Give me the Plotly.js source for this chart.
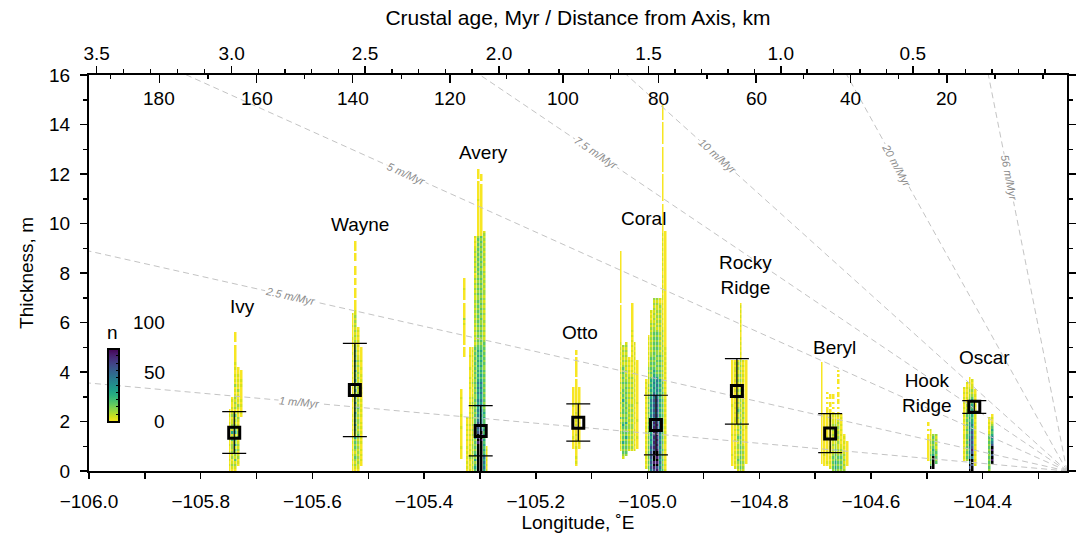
<!DOCTYPE html>
<html><head><meta charset="utf-8">
<script src="https://cdn.plot.ly/plotly-3.0.1.min.js"></script>
<style>html,body{margin:0;padding:0;background:#fff}</style>
</head><body><div id="chart" style="width:1077px;height:542px"></div>
<script>
// ================= DATA =================
const lonRange = [-106.0, -104.249];
const thkRange = [0, 16];

const siteNames    = ['Ivy', 'Wayne', 'Avery', 'Otto', 'Coral', 'Rocky<br>Ridge', 'Beryl', 'Hook<br>Ridge', 'Oscar'];
const siteLabelLon = [-105.726, -105.515, -105.2945, -105.121, -105.008, -104.825, -104.666, -104.500, -104.396];
const siteLabelThk = [6.63, 9.94, 12.85, 5.58, 10.22, 7.92, 5.01, 3.15, 4.57];

// medians and whiskers
const medianLon = [-105.740, -105.524, -105.2987, -105.124, -104.985, -104.840, -104.673, -104.415];
const medianThk = [1.55, 3.27, 1.62, 1.95, 1.86, 3.23, 1.52, 2.60];
const upperThk  = [2.40, 5.16, 2.64, 2.71, 3.06, 4.54, 2.32, 2.84];
const lowerThk  = [0.71, 1.39, 0.61, 1.21, 0.65, 1.89, 0.74, 2.33];

// accumulation-rate reference lines
const rates        = [1, 2.5, 5, 7.5, 10, 20, 56];            // m/Myr
const rateLabels   = ['1 m/Myr', '2.5 m/Myr', '5 m/Myr', '7.5 m/Myr', '10 m/Myr', '20 m/Myr', '56 m/Myr'];
const rateLabelLon = [-105.624, -105.640, -105.432, -105.092, -104.875, -104.553, -104.353];
const axisLon  = -104.249;   // ridge axis (age 0)
const ageScale = 2.03;       // Myr per degree of longitude

// top axes
const ageTickText = ['3.5', '3.0', '2.5', '2.0', '1.5', '1.0', '0.5'];
const ageTickLon  = [-105.9862, -105.7445, -105.5058, -105.2659, -104.9982, -104.7615, -104.5251];
const kmTickText  = ['180', '160', '140', '120', '100', '80', '60', '40', '20'];
const kmTickLon   = [-105.8741, -105.6997, -105.5278, -105.3536, -105.1518, -104.9807, -104.8057, -104.6362, -104.4643];

// colour bar
const cbTickVals = [0, 50, 100];

// density of thickness picks: per site, the longitude of the first column and
// one string per column, one character per 0.1 m bin from the sea floor up.
// '.' empty, 1..8 count level, x = over 100
const levelCount = [null, 1, 6, 15, 26, 40, 58, 75, 92];
const binLon = 0.005, binThk = 0.1;

const ivyLon0 = -105.7484;
const ivyCols = [
  '1121211211212112121211211',
  '123213232332432524322132121121',
  '12324233425343254232324213232321213121211212111111' + '1.1111',
  '..12132132321423212123121231212131212121' + '11',
  '......................1211212111112121111'
];
const wayneLon0 = -105.5282;
const wayneCols = [
  '1121212121121211212121211211' + '211212121212112121121121121111211112',
  '1232343234343523435343453435344353435343534353434332323232' + '3232322' + '1111.1111.111.1111..111.1111',
  '1223232323232343232332323432322323232323223232212121212121',
  '..112121211212121212112121212112121121211211211111'
];
const averyLon0 = -105.3303;
const averyCols = [
  '.....1111211111112111121111112111',
  '..............................................1111.11111111213111111.111121111',
  '1212121212112121212112',
  '21212321212121212121121212121211121212111211112111',
  '23232323233232323232232323232321212321212121212121',
  '45435354343435343434434343434334343434343434343434' + '323232323232323232322323232321323232323221212',
  'xxxxxxxxxxx8x8x76767' + '656565656556565654545454545454' + '434343434343434343433434343434343434343434343' + '1111111111111121111111.1111',
  'xxxxxxxxxxxx8x8x7676' + '656565656556565654545454545454' + '434343434334343434343434343434434343434343434' + '111111111111111111111.111',
  '5656565454545454545445454343434343434343433434343434' + '3232323232232323232332323232322323232323' + '23232',
  '2121212121'
];
const ottoLon0 = -105.1316;
const ottoCols = [
  '.........1111211111112111121111111',
  '..12121112112121112121121112111111111.11111111.11',
  '.........1121111111211111112111111'
];
const coralWestLon0 = -105.0480;
const coralWestCols = [
  '........' + '121312131213141312131213121312131212121212121' + '1111111111' + '1111.11111' + '1111111111' + '111111',
  '.....2343435343434543434434353434334343434323232323',
  '......3434343534343534343434343434343232323232323232',
  '........23232323233232323232232323232321212121',
  '........232323232332323232322323232323212121212121212121211111111111',
  '........21212121211212121212212121212112121212121212',
  '.........111121111112111111211111111111111111'
];
const coralEastLon0 = -105.0011;
const coralEastCols = [
  '.212121212121212121212121212121212121',
  '3434343434343434343434343434343232322323232212121212121',
  '6767676767656565656565656565655454545' + '4343434343323232323232321212',
  '78x8xx8x787878787878767676767676565656' + '54543434343434343433232323232323',
  '87x8x8xx878787878787767676767665656565' + '43434343433434343432323232322323',
  '5656565656565656565654545454545454545' + '343434343432323232322323232323212',
  '4343434343343434343443434343433434343' + '232323232323232323232121212121212' + '212121212112121212121212121' + '11111111111.11111111111.1111111111.111111111.111111',
  '2121212121121212121221212121211212121212121212121211111111111111111111111111111111111111111111111'
];
const rockyLon0 = -104.8496;
const rockyCols = [
  '..1111211111112111121111112111111121111111111',
  '.21212121211212121212212121212112121212122121',
  '232343232332343232322323432323323232323223232',
  '343434343434343434343232323232323232323232323' + '21212121211212121212121',
  '232323232321212121212323232321212121212121212',
  '...111111111111112111111111111111111111111111'
];
const berylLon0 = -104.6888;
const berylCols = [
  '...11111111111111111111111111111111111111111',
  '..111121111111211111111',
  '..12111211111211121111111' + '1.1.1.1',
  '.21212121211212121212121' + '1.11.11',
  '343434323232323232322121' + '.1.1.11',
  '45454343433232323232212',
  '34343432322323232323212' + '1.1.11.11.1.11.1.1',
  '34343432322121212121121',
  '323232321212121',
  '..1111111111'
];
const hookLon0 = -104.4960;
const hookCols = [
  '....11111111111.1.11',
  '.x434343232321212',
  '.xxxxx545434343',
  '...434343232323'
];
const oscarLon0 = -104.4304;
const oscarCols = [
  '....121212121221212121211212121212',
  '....343434343443434343433232121212' + '12',
  'x7x6x656567676565656454545434332321211',
  'xx7xx6x787676767656554545454543232212',
  '..2121212121121212121221212121211'
];
const oscarEastLon0 = -104.3882;
const oscarEastCols = [
  '3434343434343432121212',
  '...x8x7x8x7656545432121'
];

const siteColumns = [
  [ivyLon0, ivyCols], [wayneLon0, wayneCols], [averyLon0, averyCols], [ottoLon0, ottoCols],
  [coralWestLon0, coralWestCols], [coralEastLon0, coralEastCols], [rockyLon0, rockyCols],
  [berylLon0, berylCols], [hookLon0, hookCols], [oscarLon0, oscarCols], [oscarEastLon0, oscarEastCols]
];

// ================= BUILD =================
const FONT = 'Liberation Sans, Arial, Helvetica, sans-serif';
const nx = Math.round((lonRange[1] - lonRange[0]) / binLon) + 1;
const ny = Math.round((thkRange[1] - thkRange[0]) / binThk);
const xc = [], yc = [];
for (let i = 0; i < nx; i++) xc.push(lonRange[0] + (i + 0.5) * binLon);
for (let j = 0; j < ny; j++) yc.push(thkRange[0] + (j + 0.5) * binThk);
const zMain = [], zOver = [];
for (let j = 0; j < ny; j++) { zMain.push(new Array(nx).fill(null)); zOver.push(new Array(nx).fill(null)); }
siteColumns.forEach(([lon0, cols]) => {
  const i0 = Math.round((lon0 - lonRange[0]) / binLon - 0.5);
  cols.forEach((s, k) => {
    const i = i0 + k;
    for (let j = 0; j < s.length && j < ny; j++) {
      const c = s[j];
      if (c === 'x') zOver[j][i] = 1;
      else if (c >= '1' && c <= '8') zMain[j][i] = levelCount[+c];
    }
  });
});

const traces = [];
// reference lines
const lonSpan = axisLon - lonRange[0];
rates.forEach(r => {
  traces.push({
    type: 'scatter', mode: 'lines', x: [axisLon, lonRange[0]], y: [0, r * ageScale * lonSpan],
    line: {color: '#c4c4c4', width: 1, dash: '6px,4px'}, hoverinfo: 'skip', showlegend: false
  });
});
traces.push({
  type: 'heatmap', x: xc, y: yc, z: zMain, zmin: 0, zmax: 100, zsmooth: false, xgap: 0.5,
  colorscale: 'Viridis', reversescale: true, hoverinfo: 'skip',
  colorbar: {
    x: (108 - 89) / 978, xanchor: 'left', y: 0.125, yanchor: 'bottom', len: 0.25, lenmode: 'fraction',
    thickness: 11, thicknessmode: 'pixels', outlinewidth: 2, outlinecolor: '#000',
    ticks: 'inside', ticklen: 4, tickcolor: '#000', tickmode: 'linear', tick0: 0, dtick: 10,
    showticklabels: false, xpad: 0, ypad: 0,
    title: {text: 'n', side: 'top', font: {family: FONT, size: 19, color: '#000'}}
  }
});
traces.push({
  type: 'heatmap', x: xc, y: yc, z: zOver, zmin: 0, zmax: 1, zsmooth: false, xgap: 0.5,
  colorscale: [[0, '#000'], [1, '#000']], showscale: false, hoverinfo: 'skip'
});
traces.push({
  type: 'scatter', mode: 'markers', x: medianLon, y: medianThk,
  marker: {symbol: 'square-open', size: 11, color: '#000', line: {width: 3, color: '#000'}},
  error_y: {type: 'data', symmetric: false,
    array: upperThk.map((u, i) => u - medianThk[i]),
    arrayminus: lowerThk.map((l, i) => medianThk[i] - l),
    width: 12, thickness: 1.2, color: '#000'},
  hoverinfo: 'skip', showlegend: false
});
// invisible anchors so the two top axes are drawn
['x2', 'x3'].forEach(ax => traces.push({
  type: 'scatter', mode: 'markers', x: [lonRange[0]], y: [-5], xaxis: ax, yaxis: 'y',
  marker: {opacity: 0}, hoverinfo: 'skip', showlegend: false
}));

function interpMinor(lons, sub) {
  const out = [];
  for (let k = 0; k < lons.length - 1; k++) {
    for (let m = 1; m < sub; m++) out.push(lons[k] + (lons[k + 1] - lons[k]) * m / sub);
  }
  const dl = (lons[1] - lons[0]) / sub, dr = (lons[lons.length - 1] - lons[lons.length - 2]) / sub;
  for (let v = lons[0] - dl; v > lonRange[0]; v -= dl) out.push(v);
  for (let v = lons[lons.length - 1] + dr; v < lonRange[1]; v += dr) out.push(v);
  return out;
}

const pxW = 978, pxH = 396;
const pxPerDeg = pxW / (lonRange[1] - lonRange[0]);
const pxPerM = pxH / (thkRange[1] - thkRange[0]);

const annotations = [];
siteNames.forEach((n, i) => annotations.push({
  x: siteLabelLon[i], y: siteLabelThk[i], xref: 'x', yref: 'y', text: n, showarrow: false,
  font: {family: FONT, size: 19, color: '#000'}, align: 'center'
}));
rates.forEach((r, i) => {
  const lon = rateLabelLon[i];
  const thk = r * ageScale * (axisLon - lon);
  const ang = Math.atan(r * ageScale * pxPerM / pxPerDeg) * 180 / Math.PI;
  annotations.push({
    x: lon, y: thk, xref: 'x', yref: 'y', text: '<i>' + rateLabels[i] + '</i>', showarrow: false,
    textangle: ang, bgcolor: '#fff', borderpad: 0,
    font: {family: FONT, size: 11, color: '#8c8c8c'}
  });
});
cbTickVals.forEach(v => annotations.push({
  x: (167 - 89) / pxW, y: 0.125 + 0.25 * v / 100, xref: 'paper', yref: 'paper',
  xanchor: 'right', yanchor: 'middle', text: String(v), showarrow: false,
  font: {family: FONT, size: 19, color: '#000'}
}));
// distance-from-axis labels, written just inside the top of the frame
kmTickText.forEach((t, i) => annotations.push({
  x: kmTickLon[i], y: 1, xref: 'x', yref: 'paper', yanchor: 'middle', yshift: -23,
  text: t, showarrow: false, font: {family: FONT, size: 19, color: '#000'}
}));

const axBase = {showgrid: false, zeroline: false, fixedrange: true, color: '#000',
  tickfont: {family: FONT, size: 19, color: '#000'}, linecolor: '#000', tickcolor: '#000'};

const layout = {
  width: 1077, height: 542,
  margin: {l: 89, r: 10, t: 75, b: 71, pad: 0},
  paper_bgcolor: '#fff', plot_bgcolor: '#fff',
  font: {family: FONT, size: 19, color: '#000'},
  showlegend: false,
  xaxis: Object.assign({}, axBase, {
    range: lonRange, tick0: -106, dtick: 0.2, tickformat: '.1f',
    ticks: 'outside', ticklen: 6, tickwidth: 1.5, showline: true, linewidth: 2,
    ticklabelstandoff: 6,
    minor: {dtick: 0.1, tick0: -106, ticks: 'outside', ticklen: 6, tickwidth: 1.5, tickcolor: '#000'},
    title: {text: 'Longitude, ˚E', font: {family: FONT, size: 19}, standoff: 5}
  }),
  xaxis2: Object.assign({}, axBase, {
    overlaying: 'x', side: 'top', anchor: 'y', range: lonRange,
    tickmode: 'array', tickvals: ageTickLon, ticktext: ageTickText,
    ticks: 'outside', ticklen: 7, tickwidth: 1.5, showline: true, linewidth: 2,
    ticklabelstandoff: -2,
    minor: {tickmode: 'array', tickvals: interpMinor(ageTickLon, 5), ticks: 'outside', ticklen: 4, tickwidth: 1.5, tickcolor: '#000'},
    title: {text: 'Crustal age, Myr / Distance from Axis, km', font: {family: FONT, size: 21}, standoff: 12}
  }),
  xaxis3: Object.assign({}, axBase, {
    overlaying: 'x', side: 'top', anchor: 'y', range: lonRange,
    tickmode: 'array', tickvals: kmTickLon, showticklabels: false,
    ticks: 'inside', ticklen: 8, tickwidth: 1.5, showline: false,
    minor: {tickmode: 'array', tickvals: interpMinor(kmTickLon, 2), ticks: 'inside', ticklen: 4, tickwidth: 1.5, tickcolor: '#000'}
  }),
  yaxis: Object.assign({}, axBase, {
    range: thkRange, dtick: 2, ticks: 'outside', ticklen: 7, tickwidth: 1.5,
    showline: true, linewidth: 2, mirror: 'ticks', ticklabelstandoff: 6,
    minor: {dtick: 1, ticks: 'outside', ticklen: 4, tickwidth: 1.5, tickcolor: '#000'},
    title: {text: 'Thickness, m', font: {family: FONT, size: 19}, standoff: 10}
  }),
  annotations: annotations
};

Plotly.newPlot('chart', traces, layout, {staticPlot: true, displayModeBar: false});
</script>
</body></html>
